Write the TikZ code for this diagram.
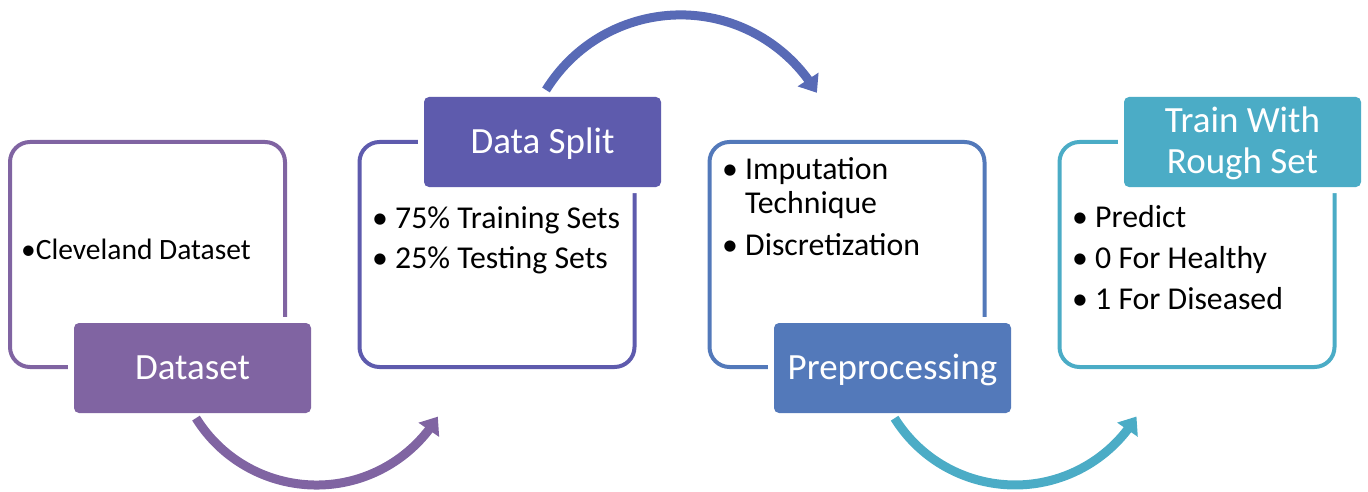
\documentclass[tikz,border=0pt]{standalone}
\usepackage{fontspec}
\setmainfont{Carlito}
\usetikzlibrary{arrows.meta,bending}

% stage colours, from purple to aqua
\definecolor{stageA}{RGB}{128,100,162}
\definecolor{stageB}{RGB}{94,91,173}
\definecolor{stageC}{RGB}{83,121,186}
\definecolor{stageD}{RGB}{75,172,198}
\definecolor{flowB}{RGB}{88,106,182}

\newcommand\itembullet{\makebox[23pt][l]{•}}

\begin{document}
\begin{tikzpicture}[x=1pt,y=1pt,
  frame/.style={draw, line width=4pt, rounded corners=20pt,
    minimum width=275pt, minimum height=225pt, inner sep=0pt, outer sep=0pt},
  tab/.style={rounded corners=5pt, preaction={draw=white, line width=12pt},
    minimum width=237pt, minimum height=90pt, inner sep=0pt, outer sep=0pt,
    text=white, font=\fontsize{37}{44}\selectfont, text height=23.5pt, text depth=0pt},
  tabtext/.style={anchor=base, inner sep=0pt, text=white, font=\fontsize{37}{44}\selectfont},
  item/.style={anchor=base west, inner sep=0pt, font=\fontsize{31.8}{38}\selectfont},
  flow/.style={line width=9pt, -{Triangle[width=24pt,length=16pt]}}
]
\useasboundingbox (0,0) rectangle (1368,491);

% outline frames
\node[frame, draw=stageA] (f1) at (147.5,236.5) {};
\node[frame, draw=stageB] (f2) at (497,236.5) {};
\node[frame, draw=stageC] (f3) at (847,236.5) {};
\node[frame, draw=stageD] (f4) at (1197,236.5) {};

% title tabs
\node[tab, fill=stageA] (l1) at (192.5,123) {Dataset};
\node[tab, fill=stageB] (l2) at (542.5,349) {Data Split};
\node[tab, fill=stageC] (l3) at (892.5,123) {Preprocessing};
\node[tab, fill=stageD] (l4) at (1242.5,349) {};
\node[tabtext] (l4a) at (1242.5,358) {Train With};
\node[tabtext] (l4b) at (1242.5,317) {Rough Set};

% frame contents
\node[item, font=\fontsize{29.5}{35}\selectfont] (i1) at (21,232) {•Cleveland Dataset};

\node[item] (i2a) at (372,263) {\itembullet 75\% Training Sets};
\node[item] (i2b) at (372,223) {\itembullet 25\% Testing Sets};

\node[item] (i3a) at (722,312) {\itembullet Imputation};
\node[item] (i3b) at (745,278) {Technique};
\node[item] (i3c) at (722,236) {\itembullet Discretization};

\node[item] (i4a) at (1072,264) {\itembullet Predict};
\node[item] (i4b) at (1072,223) {\itembullet 0 For Healthy};
\node[item] (i4c) at (1072,182) {\itembullet 1 For Diseased};

% curved flow arrows between stages
\coordinate (a1) at (196.0,72.9);
\coordinate (a2) at (546.0,401.0);
\coordinate (a3) at (894.6,72.8);
\draw[flow, draw=stageA] (a1) arc[start angle=211.9, end angle=328.8, radius=141.9];
\draw[flow, draw=flowB] (a2) arc[start angle=148.3, end angle=30.5, radius=158.2];
\draw[flow, draw=stageD] (a3) arc[start angle=212, end angle=328.8, radius=142];
\end{tikzpicture}
\end{document}
